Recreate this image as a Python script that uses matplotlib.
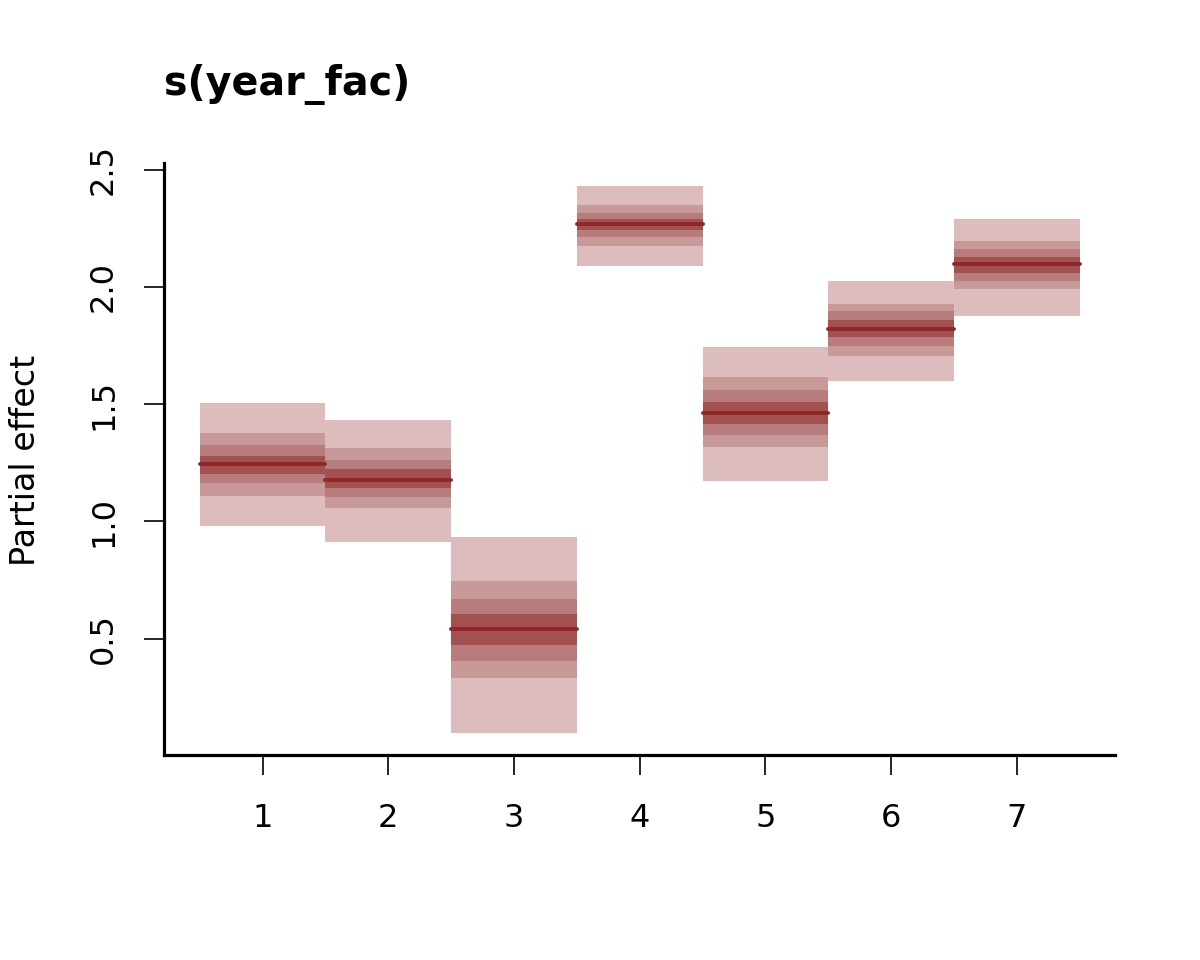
import numpy as np
import matplotlib
matplotlib.use('Agg')
import matplotlib.pyplot as plt

# Values
years = [1, 2, 3, 4, 5, 6, 7]
mean_effect = [1.246, 1.178, 0.542, 2.270, 1.464, 1.822, 2.097]

# interval bounds, widest first
outer_lo = [0.978, 0.910, 0.095, 2.091, 1.174, 1.600, 1.878]
outer_hi = [1.505, 1.433, 0.934, 2.431, 1.744, 2.026, 2.290]
band2_lo = [1.109, 1.058, 0.333, 2.175, 1.318, 1.706, 1.991]
band2_hi = [1.377, 1.313, 0.746, 2.350, 1.616, 1.928, 2.196]
band3_lo = [1.164, 1.104, 0.405, 2.213, 1.369, 1.748, 2.026]
band3_hi = [1.326, 1.262, 0.670, 2.317, 1.561, 1.898, 2.162]
band4_lo = [1.204, 1.143, 0.473, 2.243, 1.416, 1.787, 2.060]
band4_hi = [1.279, 1.224, 0.606, 2.290, 1.510, 1.859, 2.128]

x_ticks = [1, 2, 3, 4, 5, 6, 7]
y_ticks = [0.5, 1.0, 1.5, 2.0, 2.5]

# bayesplot style reds
band_colors = ['#DCBCBC', '#C79999', '#B97C7C', '#A25050']
line_color = '#8F2727'

fig = plt.figure(figsize=(12, 9.6), dpi=100)
ax = fig.add_axes([164 / 1200, 1 - 755 / 960, (1115 - 164) / 1200, (755 - 163) / 960])

bands = [(outer_lo, outer_hi), (band2_lo, band2_hi), (band3_lo, band3_hi), (band4_lo, band4_hi)]
x = np.array(years)
for (lo, hi), col in zip(bands, band_colors):
    lo = np.array(lo)
    hi = np.array(hi)
    ax.bar(x, hi - lo, bottom=lo, width=1.0, color=col, linewidth=0)

for xi, m in zip(years, mean_effect):
    ax.plot([xi - 0.5, xi + 0.5], [m, m], color=line_color, lw=2.8,
            solid_capstyle='round')

ax.set_xlim(0.216, 7.78)
ax.set_ylim(0.003, 2.529)

for s in ['top', 'right']:
    ax.spines[s].set_visible(False)
for s in ['left', 'bottom']:
    ax.spines[s].set_linewidth(2.3)
    ax.spines[s].set_capstyle('projecting')

ax.set_xticks(x_ticks)
ax.set_xticklabels([str(t) for t in x_ticks])
ax.set_yticks(y_ticks)
ax.set_yticklabels(['0.5', '1.0', '1.5', '2.0', '2.5'], rotation=90, va='center')
ax.tick_params(axis='both', length=14.4, width=1.2, labelsize=23)
ax.tick_params(axis='x', pad=20)
ax.tick_params(axis='y', pad=18)

fig.text(164 / 1200, 1 - 95 / 960, 's(year_fac)', fontsize=28.5, fontweight='bold',
         ha='left', va='baseline')
fig.text(26 / 1200, 1 - 460 / 960, 'Partial effect', fontsize=24, rotation=90,
         ha='center', va='center')

fig.savefig('out.png', dpi=100)
